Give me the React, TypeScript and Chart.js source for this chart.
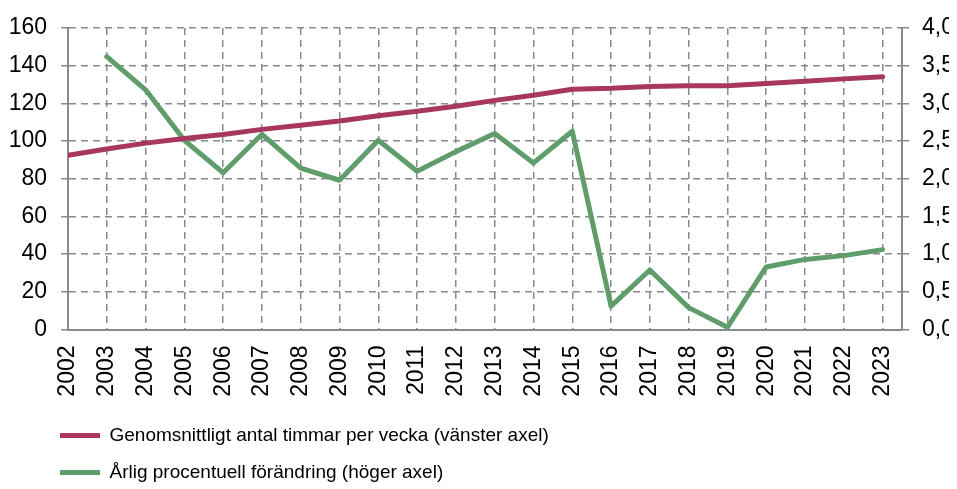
import React, { useEffect, useRef } from 'react';
import { Chart, registerables } from 'chart.js';

Chart.register(...registerables);

const years = [2002, 2003, 2004, 2005, 2006, 2007, 2008, 2009, 2010, 2011, 2012, 2013, 2014, 2015, 2016, 2017, 2018, 2019, 2020, 2021, 2022, 2023];
const hours = [92.5, 95.8, 98.9, 101.4, 103.5, 106.2, 108.4, 110.6, 113.4, 115.8, 118.5, 121.6, 124.3, 127.5, 128.0, 129.0, 129.3, 129.3, 130.5, 131.8, 133.0, 134.1];
const change = [null, 3.62, 3.18, 2.51, 2.08, 2.59, 2.14, 1.98, 2.51, 2.10, 2.36, 2.60, 2.21, 2.63, 0.31, 0.79, 0.29, 0.03, 0.83, 0.93, 0.98, 1.06];
const leftTicks = [0, 20, 40, 60, 80, 100, 120, 140, 160];
const rightTicks = [0, 0.5, 1, 1.5, 2, 2.5, 3, 3.5, 4];
const seriesNames = [
  'Genomsnittligt antal timmar per vecka (vänster axel)',
  'Årlig procentuell förändring (höger axel)',
];

const crimson = '#A8375F';
const green = '#5F9E6B';
const gridColor = '#8a8a8a';
const tickFont = { family: "'Liberation Sans', Arial, sans-serif", size: 23 };
const legendFont = { family: "'Liberation Sans Narrow', 'Arial Narrow', 'Liberation Sans', Arial, sans-serif", size: 19 };

const legendShift = {
  id: 'legendShift',
  afterLayout(chart: any) {
    const lg = chart.legend;
    if (lg) {
      const w = lg.width;
      lg.left = 34;
      lg.right = 34 + w;
    }
  },
};

const noOverhang = (s: any) => {
  s.paddingTop = 0;
  s.paddingBottom = 0;
  s.paddingLeft = 0;
  s.paddingRight = 0;
};

export default function App() {
  const ref = useRef<HTMLCanvasElement>(null);
  useEffect(() => {
    const chart = new Chart(ref.current as HTMLCanvasElement, {
      type: 'line',
      data: {
        datasets: [
          {
            label: seriesNames[0],
            data: years.map((x, i) => ({ x, y: hours[i] })),
            yAxisID: 'y',
            borderColor: crimson,
            backgroundColor: crimson,
            borderWidth: 5,
            pointRadius: 0,
            borderCapStyle: 'round',
            borderJoinStyle: 'round',
            tension: 0,
          },
          {
            label: seriesNames[1],
            data: years.map((x, i) => ({ x, y: change[i] })),
            yAxisID: 'y1',
            borderColor: green,
            backgroundColor: green,
            borderWidth: 5,
            pointRadius: 0,
            borderCapStyle: 'round',
            borderJoinStyle: 'round',
            tension: 0,
          },
        ],
      },
      plugins: [legendShift],
      options: {
        responsive: true,
        maintainAspectRatio: false,
        animation: false,
        layout: { padding: { left: 0, top: 20, right: 0, bottom: 0 } },
        plugins: {
          legend: {
            position: 'bottom',
            align: 'start',
            fullSize: false,
            labels: {
              usePointStyle: true,
              pointStyle: 'line',
              pointStyleWidth: 40,
              padding: 18,
              color: '#000',
              font: legendFont,
            },
          },
          tooltip: { enabled: false },
        },
        scales: {
          x: {
            type: 'linear',
            min: 2002,
            max: 2023.5,
            afterBuildTicks: (s: any) => { s.ticks = years.map((v) => ({ value: v })); },
            afterFit: (s: any) => { s.height = 78.5; noOverhang(s); },
            ticks: {
              autoSkip: false,
              minRotation: 90,
              maxRotation: 90,
              padding: 16,
              color: '#000',
              font: tickFont,
              callback: (v: any) => String(v),
            },
            grid: { color: gridColor, lineWidth: 1.5, drawTicks: false },
            border: { color: gridColor, width: 2, dash: [7, 5] },
          },
          y: {
            position: 'left',
            min: 0,
            max: 160,
            afterBuildTicks: (s: any) => { s.ticks = leftTicks.map((v) => ({ value: v })); },
            afterFit: (s: any) => { s.width = 60; noOverhang(s); },
            ticks: { padding: 14, color: '#000', font: tickFont },
            grid: { color: gridColor, lineWidth: 1.5, tickLength: 7, tickBorderDash: [] },
            border: { color: gridColor, width: 2, dash: [7, 5] },
          },
          y1: {
            position: 'right',
            min: 0,
            max: 4,
            afterBuildTicks: (s: any) => { s.ticks = rightTicks.map((v) => ({ value: v })); },
            afterFit: (s: any) => { s.width = 55; noOverhang(s); },
            ticks: {
              padding: 13,
              color: '#000',
              font: tickFont,
              callback: (v: any) => Number(v).toFixed(1).replace('.', ','),
            },
            grid: { drawOnChartArea: false, color: gridColor, lineWidth: 1.5, tickLength: 7, tickBorderDash: [] },
            border: { color: gridColor, width: 2 },
          },
        },
      },
    } as any);
    return () => chart.destroy();
  }, []);
  return (
    <div style={{ width: 949, height: 481, overflow: 'hidden' }}>
      <div style={{ position: 'relative', width: 949, height: 484 }}>
        <canvas ref={ref} />
      </div>
    </div>
  );
}
